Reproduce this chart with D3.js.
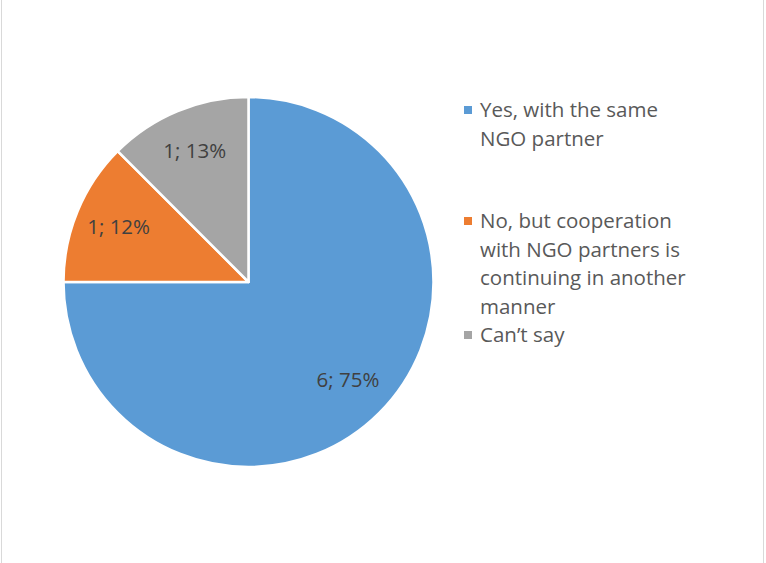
<!DOCTYPE html>
<html><head><meta charset="utf-8">
<script src="https://cdn.jsdelivr.net/npm/d3@7"></script>
<style>html,body{margin:0;padding:0;background:#fff;}</style>
</head><body>
<svg id="c" width="766" height="563"></svg>
<script>
const categories = ["Yes, with the same NGO partner", "No, but cooperation with NGO partners is continuing in another manner", "Can\u2019t say"];
const values = [6, 1, 1];
const percentLabels = ["75%", "12%", "13%"];
const legendLines = [["Yes, with the same", "NGO partner"], ["No, but cooperation", "with NGO partners is", "continuing in another", "manner"], ["Can\u2019t say"]];
const colors = ["#5B9BD5", "#ED7D31", "#A5A5A5"];

const svg = d3.select("#c");
svg.append("rect").attr("x", 1.5).attr("y", -2).attr("width", 762).attr("height", 570)
  .attr("fill", "none").attr("stroke", "#D9D9D9").attr("stroke-width", 1);

const cx = 248.5, cy = 282, R = 185;
const pie = d3.pie().value(d => d).sort(null);
const arcs = pie(values);
const arc = d3.arc().innerRadius(0).outerRadius(R);
const labelArc = d3.arc().innerRadius(R * 0.76).outerRadius(R * 0.76);

const g = svg.append("g").attr("transform", `translate(${cx},${cy})`);
g.selectAll("path").data(arcs).enter().append("path")
  .attr("d", arc).attr("fill", (d, i) => colors[i])
  .attr("stroke", "#fff").attr("stroke-width", 2.5).attr("stroke-linejoin", "round");

g.selectAll("text.lbl").data(arcs).enter().append("text")
  .attr("class", "lbl")
  .attr("transform", d => { const c = labelArc.centroid(d); return `translate(${c[0]},${c[1] - 2})`; })
  .attr("text-anchor", "middle").attr("dominant-baseline", "central")
  .attr("font-family", "'Open Sans', sans-serif").attr("font-size", 20.5)
  .attr("fill", "#404040")
  .text((d, i) => `${values[i]}; ${percentLabels[i]}`);

const lx = 464, textX = 480;
const legendTops = [117, 228, 342];
const lineH = 28.5;
const lg = svg.append("g");
legendLines.forEach((lines, i) => {
  const y0 = legendTops[i];
  lg.append("rect").attr("x", lx).attr("y", y0 - 11).attr("width", 8).attr("height", 8).attr("fill", colors[i]);
  const t = lg.append("text").attr("font-family", "'Open Sans', sans-serif").attr("font-size", 20.5).attr("fill", "#595959");
  lines.forEach((ln, j) => {
    t.append("tspan").attr("x", textX).attr("y", y0 + j * lineH).text(ln);
  });
});
</script>
</body></html>
